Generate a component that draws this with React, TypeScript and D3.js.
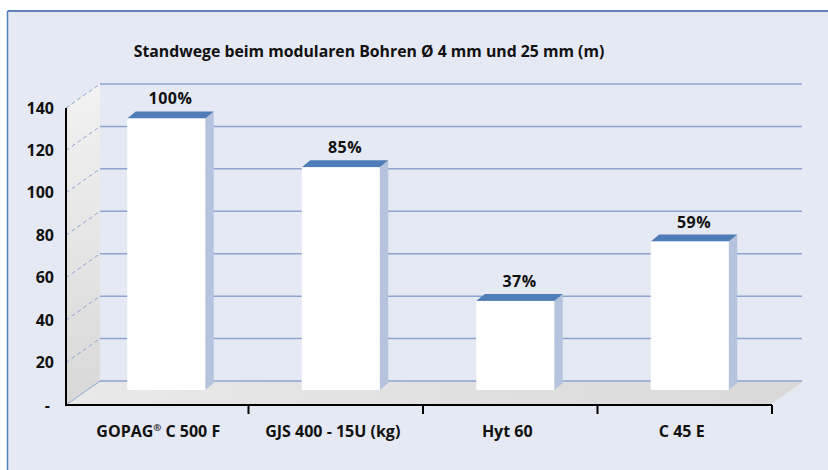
import * as d3 from 'd3';

// Standwege (m) per material
const categories = ['GOPAG® C 500 F', 'GJS 400 - 15U (kg)', 'Hyt 60', 'C 45 E'];
const values = [128, 105, 42, 70];
const percentLabels = ['100%', '85%', '37%', '59%'];
const yTicks = [0, 20, 40, 60, 80, 100, 120, 140];

const W = 828;
const H = 470;
const FONT = "'Open Sans', 'DejaVu Sans', sans-serif";
const FS = 16;

// 3D wall offsets
const DX = 34;
const DY = 24;
// where the bars stand inside the box, and their own depth
const BAR_Y = 15;
const BAR_X = 5;
const BAR_DX = 8.5;
const BAR_DY = 7;

function CategoryLabel({ label, x, y }: { label: string; x: number; y: number }) {
  const parts = label.split('®');
  return (
    <text x={x} y={y} textAnchor="middle" fontFamily={FONT} fontWeight={700} fontSize={FS} fill="#111">
      {parts.length > 1 ? (
        <>
          {parts[0]}
          <tspan fontSize={FS * 0.6} dy={-6}>®</tspan>
          <tspan dy={6}>{parts[1]}</tspan>
        </>
      ) : (
        label
      )}
    </text>
  );
}

export default function App() {
  const x = d3.scaleBand<string>().domain(categories).range([74, 772]).paddingInner(0).paddingOuter(0);
  const y = d3.scaleLinear().domain([0, 140]).range([405, 108]);
  const axisLeftX = 66;
  const y0 = y(0);
  const backRight = 802;
  const barW = x.bandwidth() * 0.447;

  const pts = (arr: [number, number][]) => arr.map(p => p.join(',')).join(' ');

  return (
    <svg width={W} height={H} style={{ position: 'absolute', left: 0, top: 0 }}>
      <defs>
        <linearGradient id="wallGrad" x1="0" y1="0" x2="0" y2="1">
          <stop offset="0%" stopColor="#f2f2f2" />
          <stop offset="100%" stopColor="#d8d8d8" />
        </linearGradient>
        <linearGradient id="floorGrad" x1="0" y1="0" x2="1" y2="0">
          <stop offset="0%" stopColor="#e9e9e9" />
          <stop offset="100%" stopColor="#d9d9d9" />
        </linearGradient>
      </defs>
      <rect x={0} y={0} width={W} height={H} fill="#ffffff" />
      {/* frame */}
      <rect x={8} y={11} width={W - 8} height={H - 11} fill="#e5e9f3" />
      <line x1={7.5} y1={11} x2={W} y2={11} stroke="#2e5f9f" strokeWidth={1.5} />
      <line x1={7.5} y1={11} x2={7.5} y2={H} stroke="#4f7fbf" strokeWidth={1.5} />

      <text x={369} y={57} textAnchor="middle" fontFamily={FONT} fontWeight={700} fontSize={15.8} fill="#111">
        Standwege beim modularen Bohren Ø 4 mm und 25 mm (m)
      </text>

      {/* side wall */}
      <polygon
        points={pts([[axisLeftX, y(140)], [axisLeftX + DX, y(140) - DY], [axisLeftX + DX, y0 - DY], [axisLeftX, y0]])}
        fill="url(#wallGrad)"
      />
      {/* floor */}
      <polygon
        points={pts([[axisLeftX, y0], [axisLeftX + DX, y0 - DY], [backRight + 2, y0 - DY], [770, y0]])}
        fill="url(#floorGrad)"
      />

      {/* gridlines on back wall + dashed on side wall */}
      {yTicks.map(t => (
        <g key={t}>
          <line x1={axisLeftX + DX} x2={backRight} y1={y(t) - DY} y2={y(t) - DY} stroke="#8ea4cf" strokeWidth={1.5} />
          <line
            x1={axisLeftX}
            y1={y(t)}
            x2={axisLeftX + DX}
            y2={y(t) - DY}
            stroke="#8ea4cf"
            strokeWidth={1}
            strokeDasharray={t === 0 ? undefined : '4,3'}
          />
        </g>
      ))}

      {/* bars */}
      {categories.map((c, i) => {
        const cx = (x(c) as number) + x.bandwidth() / 2 + BAR_X;
        const l = cx - barW / 2;
        const r = cx + barW / 2;
        const top = y(values[i]) - BAR_Y;
        const bot = y0 - BAR_Y;
        return (
          <g key={c}>
            <polygon points={pts([[r, top], [r + BAR_DX, top - BAR_DY], [r + BAR_DX, bot - BAR_DY], [r, bot]])} fill="#b5c3df" />
            <polygon points={pts([[l, top], [l + BAR_DX, top - BAR_DY], [r + BAR_DX, top - BAR_DY], [r, top]])} fill="#4f7db7" />
            <rect x={l} y={top} width={barW} height={bot - top} fill="#ffffff" />
            <text
              x={cx + BAR_DX / 2}
              y={top - BAR_DY - 7}
              textAnchor="middle"
              fontFamily={FONT}
              fontWeight={700}
              fontSize={FS}
              letterSpacing={0.5}
              fill="#111"
            >
              {percentLabels[i]}
            </text>
          </g>
        );
      })}

      {/* axes */}
      <line x1={axisLeftX} x2={axisLeftX} y1={y(140)} y2={y0 + 1} stroke="#000" strokeWidth={2} />
      <line x1={axisLeftX} x2={772} y1={y0} y2={y0} stroke="#000" strokeWidth={2} />
      {categories.map(c => {
        const bx = (x(c) as number) + x.bandwidth();
        return <line key={'t' + c} x1={bx} x2={bx} y1={y0} y2={y0 + 9} stroke="#000" strokeWidth={2} />;
      })}

      {yTicks.map(t => (
        <text
          key={'yl' + t}
          x={t === 0 ? 50 : 54}
          y={y(t)}
          dy="0.35em"
          textAnchor="end"
          fontFamily={FONT}
          fontWeight={700}
          fontSize={FS}
          fill="#111"
        >
          {t === 0 ? '-' : t}
        </text>
      ))}

      {categories.map(c => (
        <CategoryLabel key={'xl' + c} label={c} x={(x(c) as number) + x.bandwidth() / 2 - 3} y={437} />
      ))}
    </svg>
  );
}
